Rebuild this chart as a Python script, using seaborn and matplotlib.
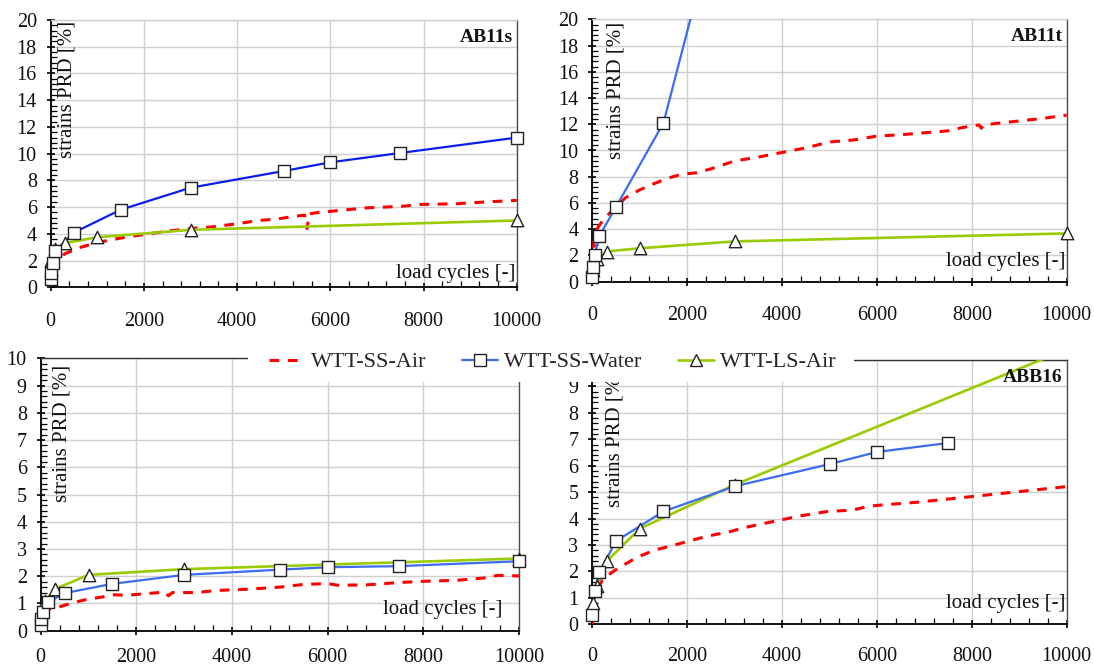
import matplotlib
matplotlib.use("Agg")
import matplotlib.pyplot as plt
from matplotlib.lines import Line2D
from matplotlib.patches import Rectangle
from matplotlib.ticker import MultipleLocator
import numpy as np
import pandas as pd
import seaborn as sns

# ---------------------------------------------------------------- data
SERIES = ["WTT-SS-Air", "WTT-SS-Water", "WTT-LS-Air"]
X_TICKS = [0, 2000, 4000, 6000, 8000, 10000]

# AB11s
ab11s_air_x = [0, 20, 50, 150, 300, 600, 1000, 1300, 1600, 2000, 2500, 3000, 3400, 4000,
               4450, 4850, 5200, 5450, 5500, 5550, 5750, 6200, 6800, 7500, 7950, 8700, 9400, 10000]
ab11s_air_y = [0.0, 1.2, 1.7, 2.1, 2.5, 2.95, 3.35, 3.55, 3.75, 3.95, 4.2, 4.4, 4.5, 4.75,
               5.0, 5.1, 5.3, 5.4, 4.4, 5.5, 5.6, 5.75, 5.95, 6.05, 6.2, 6.25, 6.4, 6.5]
ab11s_water_x = [1, 10, 50, 100, 500, 1500, 3000, 5000, 6000, 7500, 10000]
ab11s_water_y = [0.6, 1.05, 1.8, 2.7, 4.1, 5.8, 7.45, 8.7, 9.35, 10.05, 11.2]
ab11s_ls_x = [10, 100, 300, 1000, 3000, 10000]
ab11s_ls_y = [2.05, 2.85, 3.3, 3.75, 4.3, 5.0]

# AB11t
ab11t_air_x = [5, 35, 60, 130, 230, 440, 700, 1000, 1250, 1600, 1900, 2200, 2500, 3000, 3500,
               4000, 4500, 5000, 5500, 6000, 6500, 7000, 7500, 7800, 8150, 8200, 8250, 8600,
               9000, 9500, 10000]
ab11t_air_y = [1.2, 3.05, 3.7, 4.2, 4.7, 5.5, 6.4, 7.0, 7.4, 7.9, 8.2, 8.3, 8.6, 9.2, 9.5,
               9.85, 10.2, 10.65, 10.8, 11.1, 11.2, 11.35, 11.5, 11.75, 11.95, 11.7, 11.95, 12.1,
               12.25, 12.45, 12.7]
ab11t_water_x = [1, 10, 50, 150, 500, 1500, 3000]
ab11t_water_y = [0.38, 1.15, 2.04, 3.5, 5.7, 12.1, 33.0]
ab11t_ls_x = [20, 100, 300, 1000, 3000, 10000]
ab11t_ls_y = [0.9, 1.7, 2.3, 2.55, 3.07, 3.68]

# third specimen (lower left)
c_air_x = [0, 30, 90, 260, 400, 620, 960, 1300, 1500, 1800, 2200, 2600, 2670, 2750, 3250,
           3700, 4300, 5000, 5500, 6000, 6200, 6800, 7500, 8100, 8700, 9250, 9550, 10000]
c_air_y = [0.0, 0.6, 0.78, 0.82, 0.88, 1.0, 1.15, 1.24, 1.32, 1.3, 1.36, 1.42, 1.28, 1.4, 1.4,
           1.48, 1.52, 1.6, 1.7, 1.73, 1.67, 1.68, 1.77, 1.82, 1.85, 1.93, 2.03, 2.01]
c_water_x = [1, 10, 50, 150, 500, 1500, 3000, 5000, 6000, 7500, 10000]
c_water_y = [0.2, 0.42, 0.7, 1.04, 1.38, 1.72, 2.05, 2.24, 2.33, 2.37, 2.55]
c_ls_x = [20, 100, 300, 1000, 3000, 10000]
c_ls_y = [0.72, 1.1, 1.53, 2.05, 2.26, 2.65]

# ABB16
abb16_air_x = [0, 20, 60, 200, 400, 570, 940, 1300, 1670, 2180, 2470, 2910, 3210, 3790, 4380,
               4960, 5480, 5840, 6130, 6790, 7450, 8040, 8620, 9360, 10000]
abb16_air_y = [0.0, 0.9, 1.14, 1.64, 1.95, 2.15, 2.53, 2.8, 2.97, 3.22, 3.35, 3.51, 3.66, 3.88,
               4.1, 4.27, 4.32, 4.47, 4.52, 4.61, 4.73, 4.84, 4.95, 5.09, 5.21]
abb16_water_x = [1, 50, 150, 500, 1500, 3000, 5000, 6000, 7500]
abb16_water_y = [0.35, 1.27, 1.97, 3.15, 4.27, 5.22, 6.06, 6.52, 6.86]
abb16_ls_x = [20, 100, 300, 1000, 3000, 10000]
abb16_ls_y = [0.82, 1.45, 2.38, 3.62, 5.28, 10.4]

# ---------------------------------------------------------------- style
sns.set_theme(style="ticks")
plt.rcParams["font.family"] = ["Liberation Serif", "DejaVu Serif"]

RED = "#ff0000"
GREEN = "#99cc00"
BLUE_DARK = "#0a1ef2"
BLUE = "#3b6cf2"
GRID = "#cfcfcf"
MEC = "#222222"
RED_DASH = (0, (3.2, 2.8))

W, H = 1094, 668
fig = plt.figure(figsize=(W / 100, H / 100), dpi=100)


def add_axes_px(left, top, right, bottom):
    return fig.add_axes([left / W, 1 - bottom / H, (right - left) / W, (bottom - top) / H])


def long_frame(air, water, ls):
    parts = []
    for name, (x, y) in zip(SERIES, (air, water, ls)):
        parts.append(pd.DataFrame({"series": name, "cycles": x, "strain": y}))
    return pd.concat(parts, ignore_index=True)


def draw_panel(ax, df, ymax, ymajor, yminor, blue, title, top_spine, ylab_pos, xlab_pos,
               xpad, hide_top_label=False):
    air = df[df.series == SERIES[0]]
    water = df[df.series == SERIES[1]]
    ls = df[df.series == SERIES[2]]

    sns.lineplot(data=air, x="cycles", y="strain", color=RED, lw=2.2, linestyle=RED_DASH,
                 estimator=None, sort=False, ax=ax, zorder=3)
    sns.lineplot(data=ls, x="cycles", y="strain", color=GREEN, lw=1.9,
                 estimator=None, sort=False, ax=ax, zorder=3)
    sns.lineplot(data=water, x="cycles", y="strain", color=blue, lw=1.6,
                 estimator=None, sort=False, ax=ax, zorder=3)

    ls_in = ls[ls.strain <= ymax]
    water_in = water[water.strain <= ymax]
    sns.scatterplot(data=ls_in, x="cycles", y="strain", marker="^", s=80, color="white",
                    edgecolor=MEC, linewidth=1.0, clip_on=False, zorder=5, ax=ax, legend=False)
    sns.scatterplot(data=water_in, x="cycles", y="strain", marker="s", s=64, color="white",
                    edgecolor=MEC, linewidth=1.0, clip_on=False, zorder=6, ax=ax, legend=False)

    ax.set_xlim(0, 10000)
    ax.set_ylim(0, ymax)
    ax.set_xticks(X_TICKS)
    ax.set_xticklabels([str(v) for v in X_TICKS])
    ax.xaxis.set_minor_locator(MultipleLocator(400))
    yt = np.arange(0, ymax + ymajor / 2, ymajor)
    ax.set_yticks(yt)
    ylabels = [f"{v:g}" for v in yt]
    if hide_top_label:
        ylabels[-1] = ""
    ax.set_yticklabels(ylabels)
    ax.yaxis.set_minor_locator(MultipleLocator(yminor))
    ax.set_xlabel("")
    ax.set_ylabel("")

    ax.grid(True, which="major", color=GRID, lw=1.0)
    ax.set_axisbelow(True)
    ax.tick_params(which="major", direction="inout", length=6, width=1.2, color="black",
                   labelsize=14.5, labelcolor="#111111")
    ax.tick_params(axis="x", which="major", pad=xpad)
    ax.tick_params(axis="y", which="major", pad=7)
    ax.tick_params(which="minor", direction="in", length=4, width=0.9, color="black")

    for side in ("left", "bottom"):
        ax.spines[side].set_color("black")
        ax.spines[side].set_linewidth(1.3)
    ax.spines["right"].set_visible(True)
    ax.spines["right"].set_color("#4d4d4d")
    ax.spines["right"].set_linewidth(1.0)
    ax.spines["top"].set_visible(True)
    ax.spines["top"].set_color(top_spine)
    ax.spines["top"].set_linewidth(1.0)

    ax.text(ylab_pos[0], ylab_pos[1], "strains PRD [%]", rotation=90,
            ha="center", va="top", fontsize=15, transform=ax.transAxes, color="#111111")
    ax.text(xlab_pos[0], xlab_pos[1], "load cycles [-]",
            ha="right", va="center", fontsize=15, transform=ax.transAxes, color="#111111")
    if title:
        ax.text(0.992, 0.935, title, ha="right", va="center", fontsize=14,
                fontweight="bold", transform=ax.transAxes, color="#111111")


ax_tl = add_axes_px(50.7, 20.0, 516.7, 287.3)
ax_tr = add_axes_px(592.3, 19.3, 1066.7, 281.7)
ax_bl = add_axes_px(40.7, 358.3, 519.0, 630.7)
ax_br = add_axes_px(592.3, 360.0, 1066.7, 624.3)

draw_panel(ax_tl, long_frame((ab11s_air_x, ab11s_air_y), (ab11s_water_x, ab11s_water_y),
                             (ab11s_ls_x, ab11s_ls_y)),
           20, 2, 0.4, BLUE_DARK, "AB11s", GRID, (0.035, 0.998), (0.997, 0.05), 14.5)
draw_panel(ax_tr, long_frame((ab11t_air_x, ab11t_air_y), (ab11t_water_x, ab11t_water_y),
                             (ab11t_ls_x, ab11t_ls_y)),
           20, 2, 0.4, BLUE, "AB11t", GRID, (0.05, 0.99), (0.997, 0.076), 14.5)
draw_panel(ax_bl, long_frame((c_air_x, c_air_y), (c_water_x, c_water_y), (c_ls_x, c_ls_y)),
           10, 1, 0.2, BLUE, None, "#333333", (0.045, 0.975), (0.966, 0.079), 9.5)
draw_panel(ax_br, long_frame((abb16_air_x, abb16_air_y), (abb16_water_x, abb16_water_y),
                             (abb16_ls_x, abb16_ls_y)),
           10, 1, 0.2, BLUE, "ABB16", "#333333", (0.048, 0.962), (0.997, 0.079), 13,
           hide_top_label=True)

# white band behind the shared legend
fig.add_artist(Rectangle((248 / W, 1 - 382 / H), (854 - 248) / W, 40 / H,
                         transform=fig.transFigure, facecolor="white", edgecolor="none",
                         zorder=4))

handles = [
    Line2D([], [], color=RED, lw=2.2, linestyle=RED_DASH),
    Line2D([], [], color=BLUE, lw=1.6, marker="s", markersize=8, markerfacecolor="white",
           markeredgecolor=MEC, markeredgewidth=1.0),
    Line2D([], [], color=GREEN, lw=1.9, marker="^", markersize=8.5, markerfacecolor="white",
           markeredgecolor=MEC, markeredgewidth=1.0),
]
leg = fig.legend(handles, SERIES, loc="center", bbox_to_anchor=(553 / W, 1 - 362 / H),
                 ncol=3, frameon=False, fontsize=16, handlelength=1.6, handletextpad=0.3,
                 columnspacing=1.6, borderpad=0.2)
leg.set_zorder(5)

fig.savefig("out.png", dpi=100)
